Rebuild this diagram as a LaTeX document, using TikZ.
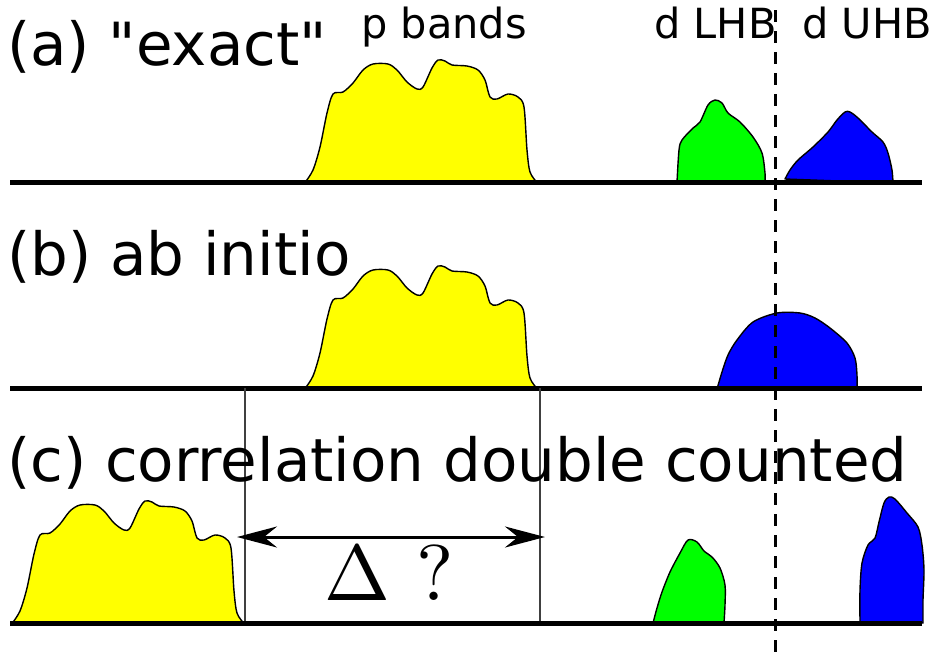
\documentclass[tikz,border=0pt]{standalone}
\usepackage[no-math]{fontspec}
\newfontfamily\dejavu{DejaVu Sans}
\usetikzlibrary{arrows.meta}
\definecolor{pyel}{RGB}{255,255,0}
\definecolor{dgreen}{RGB}{0,255,0}
\definecolor{dblue}{RGB}{0,0,255}
\tikzset{
  axis/.style={line width=5pt},
  band/.style={draw=black, line width=1.4pt, line join=round},
  big/.style={font=\dejavu\fontsize{59.5}{62}\selectfont, anchor=base west, inner sep=0pt},
  small/.style={font=\dejavu\fontsize{41.5}{44}\selectfont, anchor=base west, inner sep=0pt},
  guide/.style={line width=1.2pt, draw=black!75},
  fermi/.style={line width=3pt, dash pattern=on 12pt off 9pt},
  gaparrow/.style={line width=3pt, {Stealth[length=40pt,width=21pt,inset=13pt]}-{Stealth[length=40pt,width=21pt,inset=13pt]}},
  pband/.pic={
    \draw[band, fill=pyel] plot[smooth, tension=0.5] coordinates {
      (305,182.5) (313,170) (320,147) (327,113) (333,94) (343,92) (353,83)
      (363,70) (373,64) (388,64) (397,70) (407,82) (417,89) (423,87)
      (432,68) (438,60) (445,61) (452,65) (467,66) (478,70) (485,80)
      (490,97) (497,99) (508,94) (518,97) (524,107) (527,150) (530,172) (537,182.5)
    } -- cycle;
  }
}
\begin{document}
\begin{tikzpicture}[x=1pt, y=-1pt]
\useasboundingbox (0,0) rectangle (937,657);

% p bands
\pic at (0,0) {pband};
\pic at (0,206) {pband};
\pic at (-293,441) {pband};

% (a) d bands
\draw[band, fill=dgreen] plot[smooth, tension=0.5] coordinates {
  (677,182) (679,150) (682,140) (693,128) (700,122) (708,105) (715,100)
  (722,103) (728,113) (740,122) (753,137) (762,153) (765,173) (765,182)
} -- cycle;
\draw[band, fill=dblue] plot[smooth, tension=0.5] coordinates {
  (785,179) (790,170) (798,160) (813,147) (828,132) (837,120) (845,112)
  (850,112) (858,118) (872,132) (883,142) (888,153) (892,170) (893,183)
} -- cycle;

% (b) d band
\draw[band, fill=dblue] plot[smooth, tension=0.5] coordinates {
  (717,389) (722,372) (728,355) (737,340) (753,322) (777,313) (800,313)
  (815,318) (830,328) (847,343) (855,358) (857,375) (857,389)
} -- cycle;

% (c) d bands
\draw[band, fill=dgreen] plot[smooth, tension=0.5] coordinates {
  (653,623) (657,608) (662,592) (670,572) (680,553) (688,540) (697,542)
  (704,551) (712,557) (720,568) (725,585) (725,605) (724,623)
} -- cycle;
\draw[band, fill=dblue] plot[smooth, tension=0.5] coordinates {
  (860,623) (860,590) (862,563) (868,545) (875,538) (879,522) (884,503)
  (889,497) (895,499) (907,513) (918,527) (922,545) (924,570) (923,600) (923,623)
} -- cycle;

% baselines
\coordinate (aL) at (10,182);  \coordinate (aR) at (922,182);
\coordinate (bL) at (10,388);  \coordinate (bR) at (922,388);
\coordinate (cL) at (10,623);  \coordinate (cR) at (922,623);
\draw[axis] (aL) -- (aR);
\draw[axis] (bL) -- (bR);
\draw[axis] (cL) -- (cR);

% guides
\coordinate (g1t) at (245,388); \coordinate (g1b) at (245,621);
\coordinate (g2t) at (540,388); \coordinate (g2b) at (540,621);
\draw[guide] (g1t) -- (g1b);
\draw[guide] (g2t) -- (g2b);

% Fermi level (dashed)
\coordinate (ftop) at (775,10); \coordinate (fbot) at (775,657);
\draw[fermi] (ftop) -- (fbot);

% gap arrow
\coordinate (arL) at (237,537); \coordinate (arR) at (545,537);
\draw[gaparrow] (arL) -- (arR);

% labels
\node[big] (la) at (7,65) {(a) "exact"};
\node[big] (lb) at (7,275) {(b) ab initio};
\node[big] (lc) at (7,481) {(c) correlation double counted};
\node[small] (pb) at (361,38) {p bands};
\node[small] (lhb) at (654,38) {d LHB};
\node[small] (uhb) at (802,38) {d UHB};
\node[anchor=base west, inner sep=0pt] (delta) at (324,600) {\scalebox{7.9}{$\Delta$\ ?}};
\end{tikzpicture}
\end{document}
